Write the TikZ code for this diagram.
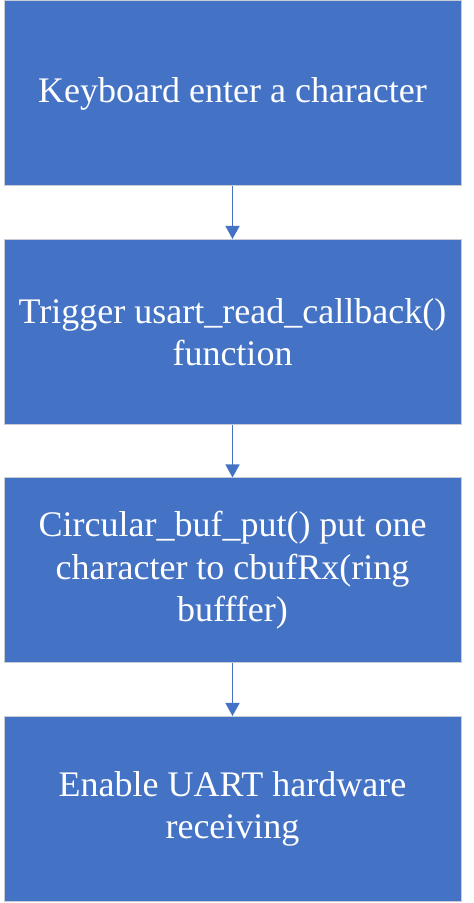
\documentclass[tikz,border=0pt]{standalone}
\usepackage{fontspec}
\setmainfont{Liberation Serif}
\usepackage{tikz}
\usetikzlibrary{arrows.meta}
\definecolor{boxblue}{HTML}{4472C4}
\definecolor{boxedge}{HTML}{C8CCD4}

\begin{document}
\begin{tikzpicture}[x=1pt,y=1pt,
	stepbox/.style={draw=boxedge,line width=1pt,fill=boxblue,text=white,minimum width=457pt,minimum height=185pt,inner sep=0pt,align=center,font=\fontsize{36}{42.5}\selectfont},
	flow/.style={draw=boxblue,fill=boxblue,line width=1.5pt,-{Triangle[width=14pt,length=13pt]}}]
	\useasboundingbox (0,0) rectangle (474,903);
	\node[stepbox] (keyin) at (232.5,809.5) {Keyboard enter a character};
	\node[stepbox] (callback) at (232.5,571) {Trigger usart\_read\_callback()\\function};
	\node[stepbox] (bufput) at (232.5,332.5) {Circular\_buf\_put() put one\\character to cbufRx(ring\\bufffer)};
	\node[stepbox] (uarten) at (232.5,94) {Enable UART hardware\\receiving};
	\draw[flow] (keyin) -- (callback);
	\draw[flow] (callback) -- (bufput);
	\draw[flow] (bufput) -- (uarten);
\end{tikzpicture}
\end{document}
